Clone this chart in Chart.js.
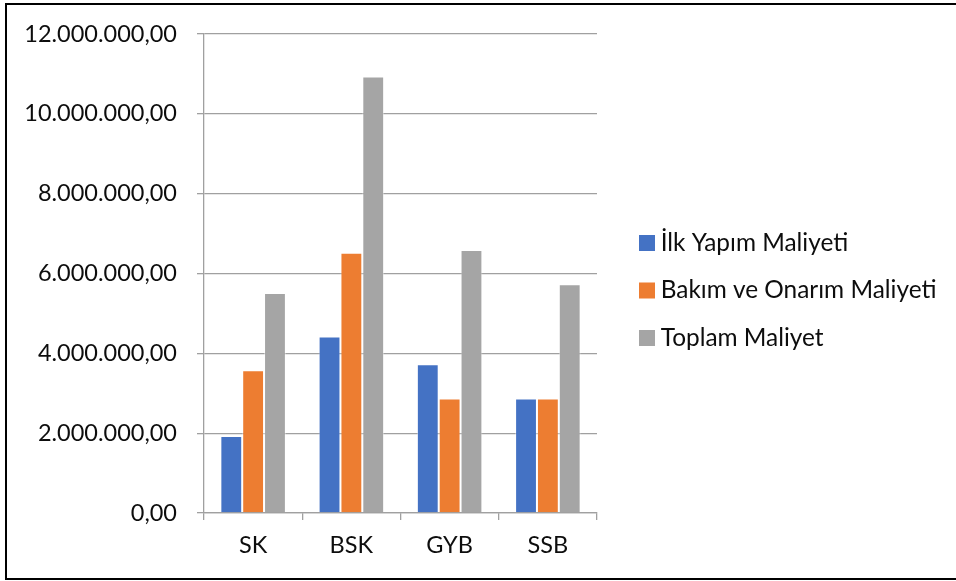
<!DOCTYPE html>
<html><head><meta charset="utf-8">
<script src="https://cdn.jsdelivr.net/npm/chart.js@4/dist/chart.umd.min.js"></script>
<style>
html,body{margin:0;padding:0;background:#fff;width:956px;height:581px;overflow:hidden}
#c{position:absolute;left:0;top:0}
#frame{position:absolute;left:5px;top:3px;width:960px;height:577px;border:2px solid #000;box-sizing:border-box;pointer-events:none}
</style></head><body>
<canvas id="c" width="956" height="581"></canvas>
<div id="frame"></div>
<script>
// ---- data ----
const categories = ['SK', 'BSK', 'GYB', 'SSB'];
const seriesNames = ['İlk Yapım Maliyeti', 'Bakım ve Onarım Maliyeti', 'Toplam Maliyet'];
const ilkYapim = [1930000, 4420000, 3730000, 2870000];
const bakimOnarim = [3580000, 6520000, 2870000, 2870000];
const toplam = [5510000, 10940000, 6590000, 5730000];
const yTickValues = [0, 2000000, 4000000, 6000000, 8000000, 10000000, 12000000];
const yTickLabels = ['0,00', '2.000.000,00', '4.000.000,00', '6.000.000,00', '8.000.000,00', '10.000.000,00', '12.000.000,00'];
const seriesColors = ['#4472C4', '#ED7D31', '#A5A5A5'];

// ---- layout constants ----
const FONT = 'Lato';
const FS = 23.5;
const LFS = 24.4;
const TEXT = '#0d0d0d';
const GRID = '#a0a0a0';
const LEG_PAD = 47.5 - LFS;
const BOXW = 3;
const BOX_STROKE = 13;
const LEG_LEFT = 639 - LEG_PAD + BOX_STROKE / 2;
const PLOT_RIGHT = 597;

const mctx = document.createElement('canvas').getContext('2d');
mctx.font = LFS + 'px ' + FONT;
const maxTextW = Math.max(...seriesNames.map(s => mctx.measureText(s).width));
const legendW = LEG_PAD + BOXW + LFS / 2 + maxTextW + 10;
const padRight = Math.max(0, 956 - LEG_LEFT - legendW);

const seriesData = [ilkYapim, bakimOnarim, toplam];

new Chart(document.getElementById('c'), {
  type: 'bar',
  data: {
    labels: categories,
    datasets: seriesNames.map((name, i) => ({
      label: name,
      data: seriesData[i],
      backgroundColor: seriesColors[i],
      borderColor: 'rgba(255,255,255,0.45)',
      borderWidth: 1,
      categoryPercentage: 0.667,
      barPercentage: 1.0
    }))
  },
  options: {
    responsive: false,
    animation: false,
    devicePixelRatio: 1,
    layout: { padding: { top: 0, bottom: 0, left: 0, right: padRight } },
    plugins: {
      tooltip: { enabled: false },
      legend: {
        position: 'right',
        maxWidth: 800,
        labels: {
          font: { family: FONT, size: LFS },
          color: TEXT,
          padding: LEG_PAD,
          boxWidth: BOXW,
          boxHeight: BOXW,
          generateLabels: (chart) => {
            const items = Chart.defaults.plugins.legend.labels.generateLabels(chart);
            return items.map(it => Object.assign(it, {
              lineWidth: BOX_STROKE,
              strokeStyle: it.fillStyle,
              lineJoin: 'miter'
            }));
          }
        }
      }
    },
    scales: {
      x: {
        type: 'category',
        position: 'bottom',
        offset: true,
        grid: { display: true, drawOnChartArea: false, drawTicks: true, tickLength: 7, color: GRID, lineWidth: 1.3, offset: true },
        border: { display: true, color: GRID, width: 1.3 },
        ticks: { font: { family: FONT, size: FS }, color: TEXT, padding: 11 },
        afterFit: (s) => { s.height = 68; }
      },
      xTop: {
        type: 'linear',
        axis: 'x',
        position: 'top',
        display: true,
        grid: { display: false },
        border: { display: false },
        ticks: { display: false },
        afterFit: (s) => { s.height = 33; }
      },
      y: {
        type: 'linear',
        position: 'left',
        min: 0,
        max: 12000000,
        afterBuildTicks: (s) => { s.ticks = yTickValues.map(v => ({ value: v })); },
        grid: { color: GRID, lineWidth: 1.3, drawTicks: true, tickLength: 7 },
        border: { display: true, color: GRID, width: 1.3 },
        ticks: {
          font: { family: FONT, size: FS },
          color: TEXT,
          padding: 20,
          callback: (v) => { const i = yTickValues.indexOf(v); return i >= 0 ? yTickLabels[i] : ''; }
        },
        afterFit: (s) => { s.width = 204; }
      },
      yRight: {
        type: 'linear',
        axis: 'y',
        position: 'right',
        display: true,
        grid: { display: false },
        border: { display: false },
        ticks: { display: false },
        afterFit: (s) => { s.width = LEG_LEFT - PLOT_RIGHT; }
      }
    }
  }
});
</script>
</body></html>
